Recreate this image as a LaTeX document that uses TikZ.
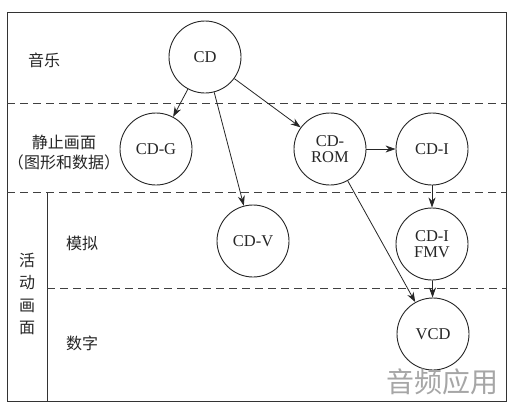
\documentclass[tikz,border=0pt]{standalone}
\usepackage{fontspec}
\setmainfont{Liberation Serif}
\newfontfamily\cjk{Noto Sans CJK SC}
\usetikzlibrary{arrows.meta}
\begin{document}
\begin{tikzpicture}[x=1pt,y=-1pt,
  frame/.style={draw=black!80,line width=0.9pt},
  sep/.style={draw=black!75,line width=0.9pt,dash pattern=on 8pt off 5pt},
  disc/.style={circle,draw=black!85,line width=0.9pt,minimum size=72pt,inner sep=0pt,align=center,font=\fontsize{16.5}{16}\selectfont,text=black!85},
  conn/.style={draw=black!85,line width=0.8pt,-{Stealth[length=10pt,width=7pt]}},
  lab/.style={font=\cjk\fontsize{16}{20}\selectfont,text=black!85,align=center}]
\useasboundingbox (0,0) rectangle (513,407);
\fill[white] (0,0) rectangle (513,407);
% frame and separators
\draw[frame] (7,12) rectangle (506,401);
\draw[frame] (47,193) -- (47,401);
\draw[sep] (7,103) -- (506,103);
\draw[sep] (7,192) -- (506,192);
\draw[sep] (47,288) -- (506,288);
% row labels
\node[lab] (music) at (44,60) {音乐};
\node[lab] (still) at (64,153) {静止画面\\（图形和数据）};
\node[lab] (analog) at (82,243) {模拟};
\node[lab] (digital) at (82,343) {数字};
\node[lab,font=\cjk\fontsize{16}{22.5}\selectfont] (moving) at (27,294) {活\\动\\画\\面};
% nodes
\node[disc] (cd) at (205,57) {CD};
\node[disc] (cdg) at (156,149) {CD-G};
\node[disc] (rom) at (330,149) {CD-\\ROM};
\node[disc] (cdi) at (432,149) {CD-I};
\node[disc] (cdv) at (253,241) {CD-V};
\node[disc] (fmv) at (432,244) {CD-I\\FMV};
\node[disc] (vcd) at (433,334) {VCD};
% connectors
\draw[conn] (cd) -- (cdg);
\draw[conn] (cd) -- (cdv);
\draw[conn] (cd) -- (rom);
\draw[conn] (rom) -- (cdi);
\draw[conn] (rom) -- (vcd);
\draw[conn] (cdi) -- (fmv);
\draw[conn] (fmv) -- (vcd);
% watermark
\node[font=\cjk\fontsize{28}{28}\selectfont,text=black!35] (wm) at (442,382) {音频应用};
\end{tikzpicture}
\end{document}
